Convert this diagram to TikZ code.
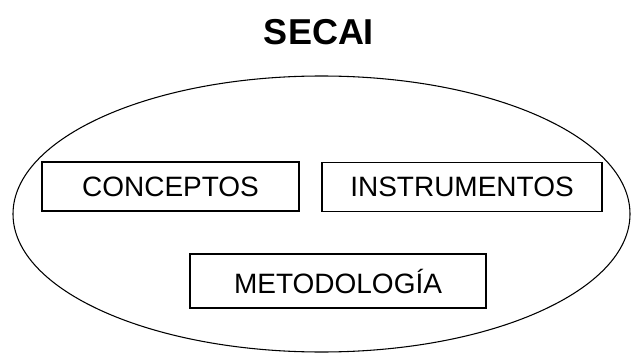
\documentclass[tikz,border=0pt]{standalone}
\usepackage{fontspec}
\setmainfont{Liberation Sans}
\usetikzlibrary{shapes.geometric}
\begin{document}
\begin{tikzpicture}[x=0.75pt,y=-0.75pt,
  itembox/.style={draw, line width=0.9pt, inner sep=0pt, font=\fontsize{21}{25}\selectfont},
  titletext/.style={font=\fontsize{27}{32}\selectfont\bfseries, inner sep=0pt}]
\useasboundingbox (0,0) rectangle (636,360);
\node[titletext] (title) at (319,32) {SECAI};
\node[draw, ellipse, line width=0.8pt, inner sep=0pt, minimum width=462.75pt, minimum height=207pt] (oval) at (321.5,214) {};
\node[itembox, minimum width=192.75pt, minimum height=36.75pt] (conceptos) at (170.5,186.5) {CONCEPTOS};
\node[itembox, minimum width=210pt, minimum height=36.75pt] (instrumentos) at (462,187) {INSTRUMENTOS};
\node[itembox, minimum width=222pt, minimum height=40.5pt] (metodologia) at (338,281) {METODOLOGÍA};
\end{tikzpicture}
\end{document}
